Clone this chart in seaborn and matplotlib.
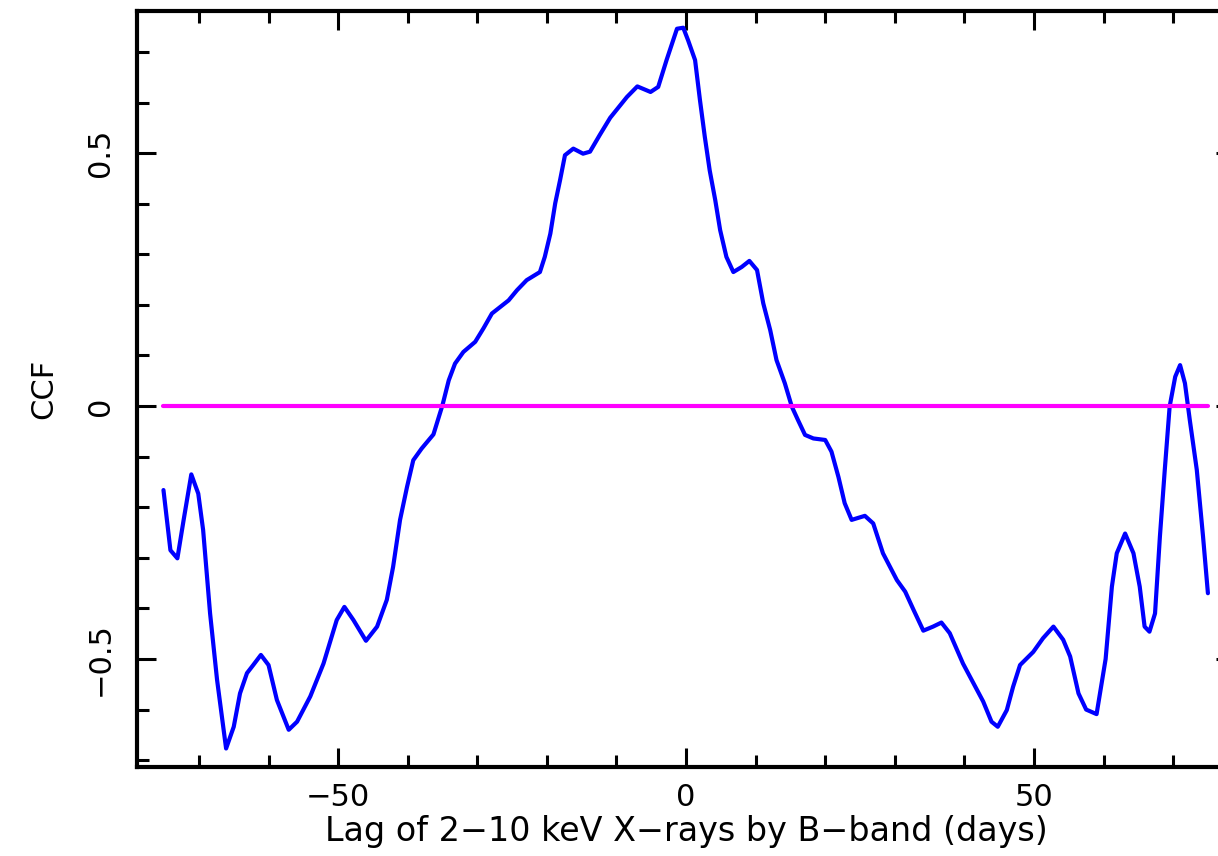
import matplotlib
matplotlib.use("Agg")
import matplotlib.pyplot as plt
from matplotlib.ticker import MultipleLocator
import seaborn as sns
import pandas as pd

lag = [-75.1, -74.1, -73.1, -72.2, -71.1, -70.1, -69.4, -68.4, -67.4, -66.1,
       -65.0, -64.1, -63.1, -62.2, -61.1, -60.0, -58.8, -57.1, -55.9, -54.0,
       -52.1, -50.2, -49.1, -47.8, -46.0, -44.4, -43.0, -42.1, -41.1, -40.1,
       -39.2, -38.0, -36.3, -35.0, -34.1, -33.2, -32.0, -30.3, -29.1, -27.9,
       -26.7, -25.5, -24.3, -22.9, -21.0, -20.3, -19.5, -18.8, -18.1, -17.4,
       -16.2, -14.8, -13.8, -12.4, -10.9, -8.5, -7.0, -5.1, -4.0, -2.8,
       -1.3, -0.4, 0.3, 1.3, 2.0, 2.7, 3.4, 4.2, 4.9, 5.8,
       6.8, 8.0, 9.1, 10.2, 11.1, 12.1, 13.0, 14.2, 15.2, 16.1,
       17.1, 18.3, 20.0, 20.9, 21.9, 22.8, 23.8, 25.7, 26.9, 28.3,
       30.3, 31.5, 32.7, 34.1, 35.5, 36.7, 37.9, 39.8, 41.3, 42.7,
       43.9, 44.8, 46.1, 47.0, 48.0, 49.9, 51.3, 52.8, 54.2, 55.2,
       56.4, 57.5, 59.0, 60.3, 61.2, 61.9, 63.1, 64.3, 65.2, 65.9,
       66.6, 67.4, 68.1, 68.8, 69.5, 70.3, 71.0, 71.7, 72.4, 73.4,
       74.3, 75.0]
ccf = [-0.166, -0.285, -0.301, -0.225, -0.135, -0.173, -0.245, -0.410, -0.541, -0.677,
       -0.634, -0.568, -0.528, -0.512, -0.492, -0.512, -0.581, -0.640, -0.624, -0.574,
       -0.509, -0.423, -0.397, -0.423, -0.464, -0.436, -0.383, -0.318, -0.225, -0.160,
       -0.107, -0.084, -0.056, 0.002, 0.051, 0.084, 0.107, 0.127, 0.154, 0.183,
       0.196, 0.209, 0.229, 0.249, 0.265, 0.295, 0.341, 0.401, 0.447, 0.496,
       0.509, 0.499, 0.503, 0.536, 0.570, 0.611, 0.632, 0.621, 0.631, 0.684,
       0.746, 0.748, 0.723, 0.684, 0.605, 0.532, 0.466, 0.407, 0.348, 0.295,
       0.265, 0.275, 0.287, 0.269, 0.203, 0.150, 0.091, 0.045, -0.001, -0.028,
       -0.057, -0.064, -0.067, -0.090, -0.140, -0.192, -0.225, -0.217, -0.232, -0.291,
       -0.344, -0.367, -0.403, -0.444, -0.436, -0.428, -0.449, -0.509, -0.548, -0.584,
       -0.624, -0.634, -0.601, -0.555, -0.512, -0.486, -0.459, -0.436, -0.462, -0.495,
       -0.568, -0.600, -0.609, -0.500, -0.357, -0.291, -0.252, -0.291, -0.357, -0.436,
       -0.446, -0.410, -0.258, -0.126, -0.001, 0.058, 0.081, 0.045, -0.028, -0.126,
       -0.258, -0.370]

zero_level = [0.0, 0.0]

xlabel = "Lag of 2\u221210 keV X\u2212rays by B\u2212band (days)"
ylabel = "CCF"

sns.set_style("ticks")
plt.rcParams['font.family'] = ['DejaVu Sans']
plt.rcParams['text.color'] = 'black'
plt.rcParams['axes.labelcolor'] = 'black'
plt.rcParams['xtick.color'] = 'black'
plt.rcParams['ytick.color'] = 'black'

fig = plt.figure(figsize=(12.18, 8.56), dpi=100)
ax = fig.add_axes([0.1125, 0.1043, 0.9015, 0.8828])

df = pd.DataFrame({"lag": lag, "ccf": ccf})
sns.lineplot(data=df, x="lag", y="ccf", sort=False, estimator=None,
             color="#0000FF", linewidth=3.0, ax=ax, zorder=2)
ax.plot([lag[0], lag[-1]], zero_level, color="#FF00FF", linewidth=3.0, zorder=3)

ax.set_xlim(-78.9, 78.9)
ax.set_ylim(-0.713, 0.781)

ax.xaxis.set_major_locator(MultipleLocator(50))
ax.xaxis.set_minor_locator(MultipleLocator(10))
ax.yaxis.set_major_locator(MultipleLocator(0.5))
ax.yaxis.set_minor_locator(MultipleLocator(0.1))

ax.set_yticks([-0.5, 0, 0.5])
ax.set_yticklabels(["\u22120.5", "0", "0.5"], rotation=90, va="center")

for s in ax.spines.values():
    s.set_visible(True)
    s.set_linewidth(3.0)
    s.set_color("black")

ax.tick_params(which="both", direction="in", top=True, right=True, color="black",
               labelcolor="black")
ax.tick_params(which="major", length=14, width=2.2, labelsize=22, pad=12)
ax.tick_params(which="minor", length=8.5, width=2.2)
ax.tick_params(axis="y", which="major", pad=16)

ax.set_xlabel(xlabel, fontsize=24, labelpad=2, color="black")
ax.set_ylabel(ylabel, fontsize=22, labelpad=20, color="black")

fig.savefig("out.png", dpi=100)
